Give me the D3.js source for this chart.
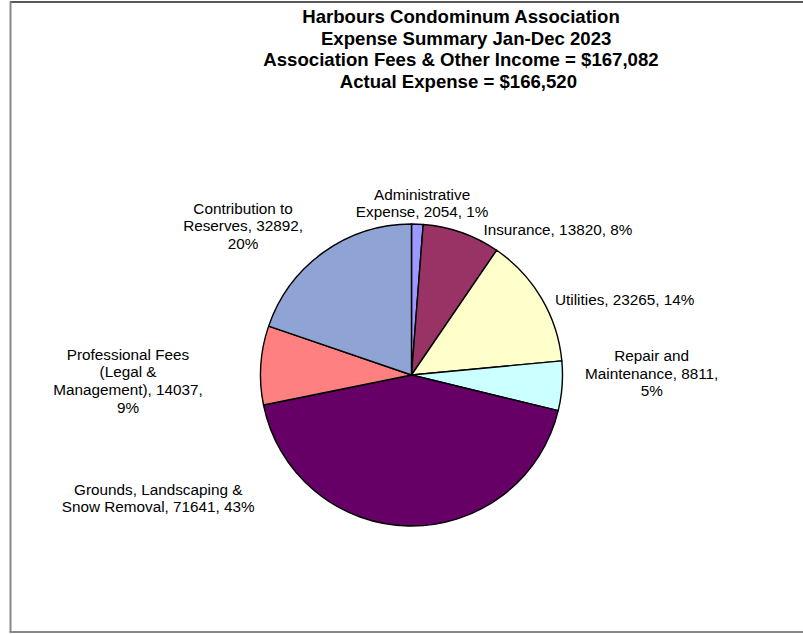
<!DOCTYPE html>
<html>
<head>
<meta charset="utf-8">
<script src="https://cdn.jsdelivr.net/npm/d3@7"></script>
<style>
  body { margin: 0; background: #fff; }
  svg { display: block; font-family: "Liberation Sans", Arial, sans-serif; }
</style>
</head>
<body>
<svg id="chart"></svg>
<script>
// data
var categories = ["Administrative Expense", "Insurance", "Utilities", "Repair and Maintenance",
                  "Grounds, Landscaping & Snow Removal", "Professional Fees (Legal & Management)",
                  "Contribution to Reserves"];
var amounts = [2054, 13820, 23265, 8811, 71641, 14037, 32892];
var percents = ["1%", "8%", "14%", "5%", "43%", "9%", "20%"];
// label text as it wraps in the original
var labelLines = [
  ["Administrative", "Expense, 2054, 1%"],
  ["Insurance, 13820, 8%"],
  ["Utilities, 23265, 14%"],
  ["Repair and", "Maintenance, 8811,", "5%"],
  ["Grounds, Landscaping &", "Snow Removal, 71641, 43%"],
  ["Professional Fees", "(Legal &", "Management), 14037,", "9%"],
  ["Contribution to", "Reserves, 32892,", "20%"]
];
var titleLines = ["Harbours Condominum Association",
                  "  Expense Summary Jan-Dec 2023",
                  "Association Fees & Other Income = $167,082",
                  "Actual Expense = $166,520 "];

var colors = ["#9999ff", "#993366", "#ffffcc", "#ccffff", "#660066", "#ff8080", "#8fa3d4"];
// small hand nudges for Excel's "best fit" label placement
var labelNudge = [[4, -1], [15, 16], [-4, 12], [3, -14], [-250, -48], [-38, 17], [-9, -10]];

var W = 803, H = 634;
var cx = 411.5, cy = 375, r = 151;
var fs = 15.3, lh = 17.6;

var svg = d3.select("#chart").attr("width", W).attr("height", H);

// chart area frame (top dark, left/bottom grey)
svg.append("line").attr("x1", 10).attr("x2", W).attr("y1", 2).attr("y2", 2)
  .attr("stroke", "#222").attr("stroke-width", 1.5);
svg.append("line").attr("x1", 10.5).attr("x2", 10.5).attr("y1", 1.5).attr("y2", 632.5)
  .attr("stroke", "#888").attr("stroke-width", 2);
svg.append("line").attr("x1", 9.5).attr("x2", W).attr("y1", 632).attr("y2", 632)
  .attr("stroke", "#888").attr("stroke-width", 2);

// title
svg.append("g").selectAll("text")
  .data(titleLines)
  .enter().append("text")
    .attr("x", 461)
    .attr("y", function(d, i) { return 23 + i * 21.7; })
    .attr("text-anchor", "middle")
    .attr("font-size", "18.6px")
    .attr("font-weight", "bold")
    .attr("xml:space", "preserve")
    .style("white-space", "pre")
    .text(function(d) { return d; });

var data = categories.map(function(c, i) {
  return { name: c, value: amounts[i], pct: percents[i], lines: labelLines[i] };
});

var pie = d3.pie().sort(null).value(function(d) { return d.value; });
var arc = d3.arc().innerRadius(0).outerRadius(r);
var arcs = pie(data);

var g = svg.append("g").attr("transform", "translate(" + cx + "," + cy + ")");

g.selectAll("path.slice")
  .data(arcs)
  .enter().append("path")
    .attr("class", "slice")
    .attr("d", arc)
    .attr("fill", function(d, i) { return colors[i]; })
    .attr("stroke", "#000")
    .attr("stroke-width", 1.4)
    .attr("stroke-linejoin", "round");

// labels: anchor point on a ring just outside the pie
var lr = r + 20;
var labels = g.selectAll("g.label")
  .data(arcs)
  .enter().append("g")
    .attr("class", "label");

labels.each(function(d, i) {
  var sel = d3.select(this);
  var a = (d.startAngle + d.endAngle) / 2;
  var px = lr * Math.sin(a), py = -lr * Math.cos(a);
  var n = d.data.lines.length;
  var t = sel.append("text")
    .attr("font-size", fs + "px")
    .attr("text-anchor", "middle")
    .attr("fill", "#000");
  t.selectAll("tspan")
    .data(d.data.lines)
    .enter().append("tspan")
      .attr("x", 0)
      .attr("y", function(s, j) { return (j - (n - 1) / 2) * lh + fs * 0.35; })
      .text(function(s) { return s; });
  var w = t.node().getBBox().width;
  var s = Math.sin(a);
  var bx = Math.abs(s) < 0.1 ? px : (s > 0 ? px + w / 2 : px - w / 2);
  sel.attr("transform", "translate(" + (bx + labelNudge[i][0]) + "," + (py + labelNudge[i][1]) + ")");
});
</script>
</body>
</html>
